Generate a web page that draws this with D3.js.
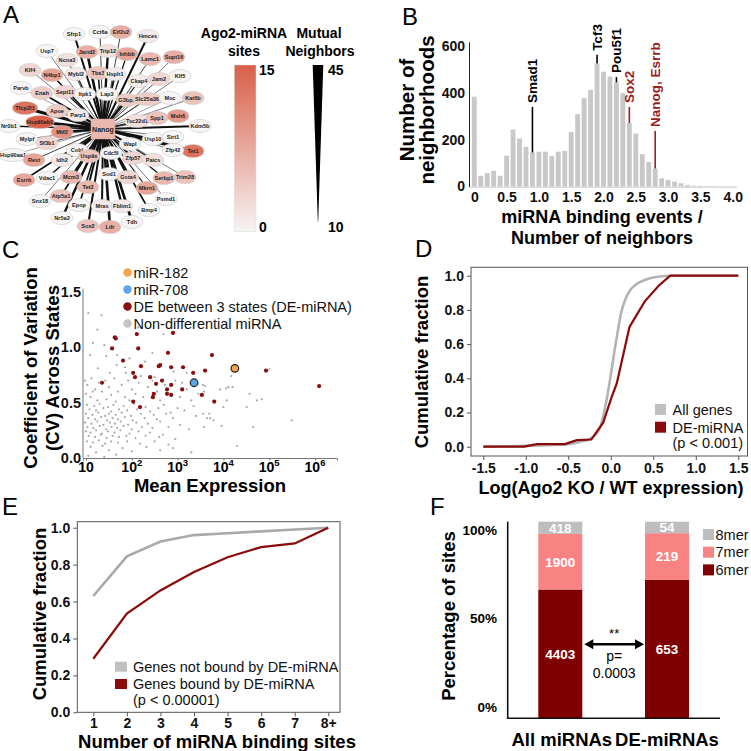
<!DOCTYPE html>
<html><head><meta charset="utf-8">
<script src="https://cdn.jsdelivr.net/npm/d3@7"></script>
<style>
body{margin:0;background:#fff}
text{font-family:"Liberation Sans",Arial,Helvetica,sans-serif}
</style>
</head><body>
<svg id="c" width="751" height="751" xmlns="http://www.w3.org/2000/svg"></svg>
<script>
// ---------------- DATA ----------------
// Panel A: network around Nanog
const netNames = ["Sfrp1","Cct6a","Eif2s2","Hmces","Usp7","Jarid2","Trip12","Inhbb","Lamc1","Supt16","Ncoa3","Tbx3","Hsph1","Klf4","N4bp1","Mybl2","Ckap4","Jam2","Klf5","Parvb","Enah","Sept11","Itpk1","Lap3","G3bp2","Slc25a36","Msc","Kat6b","Tfcp2l1","Apoe","Parp1","Tsc22d1","Spp1","Msh6","Nr0b1","Hsp90ab1","Mtf2","Kdm5b","Usp10","Sirt1","Mylpf","Sf3b1","Cobl","Wapl","Tet1","Zfp42","Hsp90aa1","Rest","Idh2","Cdc5l","Usp9x","Zfp57","Paics","Serbp1","Trim28","Esrrb","Vdac1","Mcm3","Sod1","Gsta4","Mkrn1","Tet2","Psmd1","Snx18","Atp5a1","Epop","Mras","Fblim1","Bmp4","Nr5a2","Sox2","Lifr","Tdh"];
const netSites = [0,0,7,1,0,7,2,8,6,7,2,5,1,3,8,1,1,3,0,0,4,3,0,0,4,4,0,5,13,4,1,2,5,9,0,15,10,0,0,0,0,3,0,0,13,0,0,8,1,0,5,3,2,6,5,8,0,6,0,3,8,6,0,0,5,0,1,1,0,0,5,7,0];
const netMutual = [30,15,15,30,12,38,35,20,15,12,15,25,30,12,25,20,20,15,12,10,30,20,15,20,30,15,10,12,42,25,25,20,15,12,25,45,35,28,28,12,12,15,30,20,42,12,10,15,25,25,30,30,20,20,12,25,25,30,30,30,20,30,12,12,25,25,30,35,25,35,30,38,38];
// layout of the network drawing (offsets from the hub, layout units)
const netLayout = [[-29,-95],[-3,-97],[18,-97],[45,-93],[-56,-78],[-16,-77],[5,-78],[24,-75],[47,-70],[71,-72],[-36,-69],[-5,-56],[12,-55],[-73,-59],[-51,-54],[-27,-55],[36,-48],[56,-50],[77,-53],[-82,-41],[-61,-36],[-38,-37],[-18,-35],[4,-35],[24,-29],[44,-30],[67,-31],[90,-31],[-78,-21],[-46,-18],[-25,-14],[34,-8],[54,-11],[75,-13],[-94,-3],[-63,-7],[-41,3],[97,-3],[50,10],[70,8],[-76,10],[-56,14],[-26,21],[27,15],[90,22],[70,21],[-90,26],[-69,31],[-41,31],[8,24],[-14,27],[30,29],[50,31],[61,49],[82,48],[-79,51],[-56,49],[-32,48],[6,45],[25,48],[44,59],[-15,58],[63,70],[-63,72],[-42,67],[-24,76],[-1,77],[19,77],[46,81],[-41,89],[-15,97],[7,98],[29,93]];
const hubName = "Nanog";
const hubSites = 6;
const sitesLegendTicks = [0,15];
const mutualLegendTicks = [10,45];

// Panel B: histogram
const histBins = [0,0.1,0.2,0.3,0.4,0.5,0.6,0.7,0.8,0.9,1.0,1.1,1.2,1.3,1.4,1.5,1.6,1.7,1.8,1.9,2.0,2.1,2.2,2.3,2.4,2.5,2.6,2.7,2.8,2.9,3.0,3.1,3.2,3.3,3.4,3.5,3.6,3.7,3.8,3.9,4.0];
const histCounts = [385,46,58,67,46,132,244,206,170,146,149,149,130,149,153,234,310,379,414,527,492,471,446,400,272,227,139,105,77,35,28,21,14,7,4,3,2,2,1,1,1];
const histXTicks = [0,0.5,1.0,1.5,2.0,2.5,3.0,3.5,4.0];
const histYTicks = [0,200,400,600];
const annLabels = ["Smad1","Tcf3","Pou5f1","Sox2","Nanog, Esrrb"];
const annBins = [0.9,1.9,2.2,2.4,2.8];
const annTop = [341,564,469,341,238];
const annRed = [false,false,false,true,true];

// Panel C: scatter [log10 mean expression, CV]
const cGrey = [[1.05,1.31],[1.34,1.29],[1.25,1.16],[1.15,1.04],[1.09,0.93],[1.44,0.92],[1.68,0.93],[2.14,1.18],[2.69,1.12],[1.26,0.81],[1.67,0.84],[1.85,0.82],[2.29,0.87],[1.52,0.77],[1.87,0.77],[2.91,0.78],[3.2,0.77],[1.4,1.02],[2.45,0.95],[1.95,0.9],
[4.17,0.74],[3.93,0.62],[4.06,0.63],[4.11,0.64],[4.2,0.64],[3.6,0.65],[3.58,0.6],[4.07,0.52],[4.0,0.46],[4.57,0.58],[4.73,0.52],[4.84,0.53],[4.51,0.46],[3.56,0.4],[3.69,0.4],[3.64,0.36],[3.71,0.36],[3.78,0.34],[3.58,0.28],[3.96,0.29],[4.65,0.28],[5.49,0.34],[4.3,0.11],[5.0,0.8],
[0.98,0.7],[1.03,0.66],[1.12,0.72],[1.2,0.62],[1.28,0.68],[1.35,0.6],[1.42,0.7],[1.5,0.64],[1.55,0.57],[1.62,0.72],[1.7,0.6],[1.78,0.66],[1.85,0.55],[1.92,0.7],[2.0,0.62],[2.08,0.58],[2.15,0.68],[2.25,0.55],[2.35,0.64],[2.45,0.7],[2.55,0.6],[2.62,0.52],[2.72,0.66],[2.85,0.58],[2.95,0.7],[3.05,0.55],[3.2,0.62],[3.3,0.52],[3.45,0.58],[3.55,0.66],[1.1,0.55],[1.25,0.52],[1.45,0.53],[1.65,0.51],[1.95,0.52],[2.2,0.74],[2.5,0.73],[1.0,0.58],[1.15,0.6],[3.1,0.68],
[1.02,0.48],[1.18,0.47],[1.3,0.49],[1.48,0.46],[1.6,0.48],[1.82,0.47],[2.05,0.49],[2.3,0.46],[2.7,0.48],[3.0,0.45],[3.35,0.47],
[1.08,0.44],[1.22,0.43],[1.38,0.45],[1.55,0.42],[1.72,0.44],[1.9,0.43],[2.12,0.44],[2.4,0.42],[2.58,0.45],[2.85,0.41],[3.15,0.43],
[1.0,0.4],[1.14,0.39],[1.27,0.41],[1.42,0.38],[1.5,0.4],[1.65,0.39],[1.78,0.41],[1.98,0.38],[2.2,0.4],[2.48,0.39],[2.75,0.4],[3.4,0.38],
[1.05,0.36],[1.2,0.35],[1.33,0.37],[1.46,0.34],[1.58,0.36],[1.7,0.35],[1.85,0.37],[2.02,0.34],[2.28,0.36],[2.55,0.35],[2.9,0.36],
[0.98,0.32],[1.12,0.31],[1.25,0.33],[1.38,0.3],[1.52,0.32],[1.63,0.31],[1.76,0.33],[1.92,0.3],[2.1,0.32],[2.35,0.31],[2.62,0.33],[3.05,0.3],
[1.03,0.28],[1.16,0.27],[1.3,0.29],[1.44,0.26],[1.56,0.28],[1.68,0.27],[1.82,0.29],[2.0,0.26],[2.22,0.28],[2.45,0.27],[2.8,0.28],[3.25,0.26],
[1.0,0.24],[1.1,0.23],[1.22,0.25],[1.35,0.22],[1.48,0.24],[1.62,0.23],[1.75,0.25],[1.95,0.22],[2.15,0.24],[2.4,0.23],[2.68,0.21],
[1.06,0.2],[1.2,0.19],[1.32,0.21],[1.45,0.18],[1.58,0.2],[1.72,0.19],[1.88,0.2],[2.08,0.18],[2.3,0.2],[2.6,0.19],[2.95,0.17],
[1.02,0.15],[1.15,0.14],[1.28,0.16],[1.42,0.13],[1.55,0.15],[1.7,0.14],[1.9,0.15],[2.18,0.13],[2.5,0.15],[2.8,0.12],
[1.1,0.1],[1.22,0.05],[1.36,0.11],[1.5,0.07],[1.66,0.03],[1.8,0.09],[2.0,0.06],[2.32,0.1],[2.62,0.07],[2.9,0.09],[1.05,0.02],[1.4,0.01],[3.3,0.05]];
const cDE = [[1.63,1.09],[1.65,1.08],[2.11,1.12],[2.9,1.13],[1.57,0.99],[2.14,0.99],[2.79,0.95],[3.75,0.93],[1.81,0.88],[2.2,0.83],[2.59,0.83],[2.62,0.84],[2.86,0.82],[3.12,0.82],[3.6,0.79],[4.93,0.79],[2.03,0.77],[2.07,0.73],[2.4,0.73],[3.34,0.77],[1.35,0.68],[2.53,0.67],[2.66,0.7],[2.86,0.66],[3.1,0.62],[2.77,0.62],[2.48,0.58],[2.46,0.55],[2.77,0.58],[2.86,0.57],[3.53,0.57],[2.03,0.51],[2.18,0.46],[3.8,0.51],[6.09,0.65]];
const cMiR182 = [4.25,0.81];
const cMiR708 = [3.36,0.68];
const cLegend = ["miR-182","miR-708","DE between 3 states (DE-miRNA)","Non-differential miRNA"];
const cXTicks = [1,2,3,4,5,6];
const cYTicks = [0,0.5,1.0,1.5];

// Panel D: cumulative distributions
const dAllX = [-1.5,-1.0,-0.7,-0.5,-0.35,-0.25,-0.18,-0.12,-0.08,-0.04,0,0.04,0.08,0.12,0.17,0.22,0.3,0.4,0.5,0.7,1.5];
const dAllY = [0,0.005,0.01,0.015,0.03,0.045,0.07,0.12,0.2,0.3,0.42,0.55,0.67,0.78,0.86,0.91,0.95,0.975,0.99,1.0,1.0];
const dDeX = [-1.5,-1.02,-0.87,-0.54,-0.4,-0.23,-0.09,0.01,0.07,0.22,0.4,0.56,0.7,1.5];
const dDeY = [0,0,0.015,0.015,0.038,0.042,0.14,0.29,0.37,0.70,0.85,0.94,1.0,1.0];
const dXTicks = [-1.5,-1.0,-0.5,0,0.5,1.0,1.5];
const dYTicks = [0,0.2,0.4,0.6,0.8,1.0];

// Panel E
const eSites = ["1","2","3","4","5","6","7","8+"];
const eNotBound = [0.63,0.845,0.925,0.96,0.97,0.98,0.99,1.0];
const eBound = [0.29,0.535,0.66,0.76,0.84,0.895,0.915,1.0];

// Panel F
const fCats = ["All miRNAs","DE-miRNAs"];
const f6mer = [4403,653];
const f7mer = [1900,219];
const f8mer = [418,54];
const fKmers = ["8mer","7mer","6mer"];
const fYTicks = [0,0.5,1];

// ---------------- DRAW ----------------
const svg = d3.select("#c");
svg.append("rect").attr("width",751).attr("height",751).attr("fill","#fff");
const RED = "#8b0a0a";

function letter(t,x,y){svg.append("text").attr("x",x).attr("y",y).attr("font-size",24).text(t);}
function rotText(t,x,y,size){svg.append("text").attr("transform",`translate(${x},${y}) rotate(-90)`).attr("text-anchor","middle").attr("font-size",size).attr("font-weight","bold").text(t);}
function styleAxis(g,size){g.selectAll("text").attr("font-size",size).attr("font-weight","bold").attr("fill","#111").style("font-family","'Liberation Sans',Arial,sans-serif");}

// ===== Panel A =====
letter("A",3,23);
const ax = d3.scaleLinear().domain([-100,100]).range([3,203]);
const ay = d3.scaleLinear().domain([-100,100]).range([29,229]);
const siteColor = d3.scaleLinear().domain([0,15]).range(["#f6f4f4","#d95f48"]);
const edgeW = d3.scaleLinear().domain([10,45]).range([0.4,3.2]);
const gA = svg.append("g");
netNames.forEach((n,i)=>{
  gA.append("line").attr("x1",ax(0)).attr("y1",ay(0)).attr("x2",ax(netLayout[i][0])).attr("y2",ay(netLayout[i][1]))
    .attr("stroke","#111").attr("stroke-width",edgeW(netMutual[i]));
});
netNames.forEach((n,i)=>{
  const cx=ax(netLayout[i][0]), cy=ay(netLayout[i][1]);
  gA.append("ellipse").attr("cx",cx).attr("cy",cy).attr("rx",Math.max(11,n.length*1.8)).attr("ry",6.6)
    .attr("fill",siteColor(netSites[i])).attr("stroke","#c9c9c9").attr("stroke-width",0.6);
  gA.append("text").attr("x",cx).attr("y",cy+2).attr("text-anchor","middle").attr("font-size",5.6).attr("font-weight","bold").attr("fill","#222").text(n);
});
gA.append("rect").attr("x",ax(0)-12).attr("y",ay(0)-10).attr("width",24).attr("height",20).attr("fill",siteColor(hubSites)).attr("stroke","#d8a79c").attr("stroke-width",0.5);
gA.append("text").attr("x",ax(0)).attr("y",ay(0)+2.5).attr("text-anchor","middle").attr("font-size",7).attr("font-weight","bold").attr("fill","#222").text(hubName);

// legends
const defs = svg.append("defs");
const grad = defs.append("linearGradient").attr("id","sg").attr("x1",0).attr("x2",0).attr("y1",0).attr("y2",1);
grad.append("stop").attr("offset","0%").attr("stop-color",siteColor(15));
grad.append("stop").attr("offset","100%").attr("stop-color",siteColor(0));
const legY = d3.scaleLinear().domain([0,15]).range([231.7,65]);
svg.append("rect").attr("x",234.3).attr("y",legY(15)).attr("width",21.7).attr("height",legY(0)-legY(15)).attr("fill","url(#sg)").attr("stroke","#ddd").attr("stroke-width",0.5);
svg.append("text").attr("x",244).attr("y",38).attr("text-anchor","middle").attr("font-size",14).attr("font-weight","bold").text("Ago2-miRNA");
svg.append("text").attr("x",244).attr("y",55.5).attr("text-anchor","middle").attr("font-size",14).attr("font-weight","bold").text("sites");
sitesLegendTicks.forEach(v=>svg.append("text").attr("x",259).attr("y",v===15?75:232).attr("font-size",14).attr("font-weight","bold").text(v));
svg.append("text").attr("x",319).attr("y",38).attr("text-anchor","middle").attr("font-size",14).attr("font-weight","bold").text("Mutual");
svg.append("text").attr("x",320).attr("y",55.5).attr("text-anchor","middle").attr("font-size",14).attr("font-weight","bold").text("Neighbors");
const legM = d3.scaleLinear().domain([10,45]).range([221.7,65]);
const legMW = d3.scaleLinear().domain([10,45]).range([0.4,10.6]);
const wedge = d3.area().y(d=>legM(d)).x0(d=>318-legMW(d)/2).x1(d=>318+legMW(d)/2);
svg.append("path").attr("d",wedge(mutualLegendTicks)).attr("fill","#000");
mutualLegendTicks.forEach(v=>svg.append("text").attr("x",328).attr("y",v===45?75:232).attr("font-size",14).attr("font-weight","bold").text(v));

// ===== Panel B =====
letter("B",402,25);
const xB = d3.scaleLinear().domain([0,4]).range([474.3,732.7]);
const yB = d3.scaleLinear().domain([0,620]).range([186.5,41.8]);
const bw = xB(0.1)-xB(0)-1.6;
svg.append("g").selectAll("rect").data(histCounts).join("rect")
  .attr("x",(d,i)=>xB(histBins[i])-bw/2).attr("y",d=>yB(d)).attr("width",bw).attr("height",d=>yB(0)-yB(d)).attr("fill","#c8c8c8");
svg.append("line").attr("x1",469).attr("x2",737).attr("y1",187.2).attr("y2",187.2).attr("stroke","#bbb").attr("stroke-width",0.8);
const gBy = svg.append("g").attr("transform","translate(469,0)").call(d3.axisLeft(yB).tickValues(histYTicks).tickSize(0).tickPadding(4));
gBy.select(".domain").attr("stroke","#222");
styleAxis(gBy,14);
const gBx = svg.append("g").attr("transform","translate(0,187)").call(d3.axisBottom(xB).tickValues(histXTicks).tickSize(0).tickPadding(5.5).tickFormat(d=>d===0?"0":d.toFixed(1)));
gBx.select(".domain").remove();
styleAxis(gBx,14);
annLabels.forEach((t,i)=>{
  const x = xB(annBins[i]);
  const col = annRed[i]?"#9b1c1c":"#000";
  const barTop = yB(histCounts[histBins.indexOf(annBins[i])]);
  svg.append("line").attr("x1",x).attr("x2",x).attr("y1",yB(annTop[i])).attr("y2",barTop).attr("stroke",col).attr("stroke-width",1.6);
  svg.append("text").attr("transform",`translate(${x+5},${yB(annTop[i])-4}) rotate(-90)`).attr("font-size",13.5).attr("font-weight","bold").attr("fill",col).text(t);
});
rotText("Number of",414,110,20.5);
rotText("neighborhoods",434,110,20.5);
svg.append("text").attr("x",602).attr("y",222.5).attr("text-anchor","middle").attr("font-size",18).attr("font-weight","bold").text("miRNA binding events /");
svg.append("text").attr("x",602).attr("y",244).attr("text-anchor","middle").attr("font-size",18).attr("font-weight","bold").text("Number of neighbors");

// ===== Panel C =====
letter("C",2,258);
const xC = d3.scaleLog().domain([Math.pow(10,0.935),Math.pow(10,6.48)]).range([83,337]);
const yC = d3.scaleLinear().domain([0,1.5]).range([458,292]);
const gCy = svg.append("g").attr("transform","translate(83,0)").call(d3.axisLeft(yC).tickValues(cYTicks).tickSize(0).tickPadding(2).tickFormat(d3.format(".1f")));
gCy.select(".domain").attr("d",`M0,${yC(1.53)}V${yC(0)}`).attr("stroke","#777");
styleAxis(gCy,14.5);
const gCx = svg.append("g").attr("transform","translate(0,458)").call(d3.axisBottom(xC).tickValues(cXTicks.map(e=>Math.pow(10,e))).tickSize(2.5).tickFormat(""));
gCx.select(".domain").attr("stroke","#777");
gCx.selectAll("line").attr("stroke","#777");
cXTicks.forEach(e=>{
  const t = svg.append("text").attr("x",xC(Math.pow(10,e))).attr("y",471.5).attr("text-anchor","middle").attr("font-size",14).attr("font-weight","bold");
  if(e===1){t.text("10");}
  else{t.append("tspan").text("10");t.append("tspan").attr("dy",-6).attr("font-size",9.5).text(e);}
});
svg.append("g").selectAll("circle").data(cGrey).join("circle")
  .attr("cx",d=>xC(Math.pow(10,d[0]))).attr("cy",d=>yC(d[1])).attr("r",1.1).attr("fill","#a9a9a9");
svg.append("g").selectAll("circle").data(cDE).join("circle")
  .attr("cx",d=>xC(Math.pow(10,d[0]))).attr("cy",d=>yC(d[1])).attr("r",2.1).attr("fill","#8b0d0d");
[[cMiR182,"#f5a54a"],[cMiR708,"#5aa6e6"]].forEach(([p,c])=>{
  svg.append("circle").attr("cx",xC(Math.pow(10,p[0]))).attr("cy",yC(p[1])).attr("r",3.8).attr("fill",c).attr("stroke","#222").attr("stroke-width",1.2);
});
const cLegCol = ["#f5a54a","#5aa6e6","#8b0d0d","#c4c4c4"];
cLegend.forEach((t,i)=>{
  const y = 272.5+i*17;
  svg.append("circle").attr("cx",127.5).attr("cy",y).attr("r",4.2).attr("fill",cLegCol[i]);
  svg.append("text").attr("x",133.5).attr("y",y+5).attr("font-size",14.5).attr("fill","#111").text(t);
});
rotText("Coefficient of Variation",37,368,18.5);
rotText("(CV) Across States",59,368,18.5);
svg.append("text").attr("x",210).attr("y",491.5).attr("text-anchor","middle").attr("font-size",18.5).attr("font-weight","bold").text("Mean Expression");

// ===== Panel D =====
letter("D",415,257);
const xD = d3.scaleLinear().domain([-1.5,1.5]).range([483.3,738.3]);
const yD = d3.scaleLinear().domain([0,1]).range([446.7,275.7]);
svg.append("rect").attr("x",471).attr("y",267.3).attr("width",276.5).attr("height",188.7).attr("fill","none").attr("stroke","#555").attr("stroke-width",1);
const gDy = svg.append("g").attr("transform","translate(471,0)").call(d3.axisLeft(yD).tickValues(dYTicks).tickSize(4).tickPadding(3).tickFormat(d=>d.toFixed(1)));
gDy.select(".domain").remove(); gDy.selectAll("line").attr("stroke","#555");
styleAxis(gDy,14);
const gDx = svg.append("g").attr("transform","translate(0,456)").call(d3.axisBottom(xD).tickValues(dXTicks).tickSize(4).tickPadding(3).tickFormat(d=>d.toFixed(1)));
gDx.select(".domain").remove(); gDx.selectAll("line").attr("stroke","#555");
styleAxis(gDx,14);
const lineD = d3.line().x(d=>xD(d[0])).y(d=>yD(d[1]));
svg.append("path").attr("d",lineD.curve(d3.curveMonotoneX)(dAllX.map((x,i)=>[x,dAllY[i]]))).attr("fill","none").attr("stroke","#b3b3b3").attr("stroke-width",2.6);
svg.append("path").attr("d",d3.line().x(d=>xD(d[0])).y(d=>yD(d[1]))(dDeX.map((x,i)=>[x,dDeY[i]]))).attr("fill","none").attr("stroke",RED).attr("stroke-width",2.2);
svg.append("rect").attr("x",655).attr("y",404).attr("width",11).attr("height",11).attr("fill","#c0c0c0");
svg.append("rect").attr("x",655).attr("y",421.7).attr("width",11).attr("height",11).attr("fill",RED);
svg.append("text").attr("x",672.5).attr("y",415).attr("font-size",14.5).attr("fill","#111").text("All genes");
svg.append("text").attr("x",672.5).attr("y",432.5).attr("font-size",14.5).attr("fill","#111").text("DE-miRNA");
svg.append("text").attr("x",672.5).attr("y",447.5).attr("font-size",14.5).attr("fill","#111").text("(p < 0.001)");
rotText("Cumulative fraction",428,362,18.5);
svg.append("text").attr("x",611).attr("y",494).attr("text-anchor","middle").attr("font-size",18).attr("font-weight","bold").text("Log(Ago2 KO / WT expression)");

// ===== Panel E =====
letter("E",2,515);
const xE = d3.scaleLinear().domain([1,8]).range([93.3,328.3]);
const yE = d3.scaleLinear().domain([0,1]).range([712.3,527.7]);
svg.append("rect").attr("x",77.3).attr("y",521.7).attr("width",262.7).attr("height",190.6).attr("fill","none").attr("stroke","#555").attr("stroke-width",1);
const gEy = svg.append("g").attr("transform","translate(77.3,0)").call(d3.axisLeft(yE).tickValues(dYTicks).tickSize(4).tickPadding(3).tickFormat(d=>d.toFixed(1)));
gEy.select(".domain").remove(); gEy.selectAll("line").attr("stroke","#555");
styleAxis(gEy,14);
const gEx = svg.append("g").attr("transform","translate(0,712.3)").call(d3.axisBottom(xE).tickValues(d3.range(1,9)).tickSize(4).tickPadding(2).tickFormat((d,i)=>eSites[i]));
gEx.select(".domain").remove(); gEx.selectAll("line").attr("stroke","#555");
styleAxis(gEx,14);
const lineE = d3.line().x((d,i)=>xE(i+1)).y(d=>yE(d));
svg.append("path").attr("d",lineE(eNotBound)).attr("fill","none").attr("stroke","#a9a9a9").attr("stroke-width",2.6);
svg.append("path").attr("d",lineE(eBound)).attr("fill","none").attr("stroke",RED).attr("stroke-width",2.2);
svg.append("rect").attr("x",115).attr("y",661.7).attr("width",12).attr("height",10).attr("fill","#c0c0c0");
svg.append("rect").attr("x",115).attr("y",679).attr("width",12).attr("height",10).attr("fill",RED);
svg.append("text").attr("x",133).attr("y",672).attr("font-size",14.5).attr("fill","#111").text("Genes not bound by DE-miRNA");
svg.append("text").attr("x",133).attr("y",689).attr("font-size",14.5).attr("fill","#111").text("Genes bound by DE-miRNA");
svg.append("text").attr("x",133).attr("y",705).attr("font-size",14.5).attr("fill","#111").text("(p < 0.00001)");
rotText("Cumulative fraction",46,614,18.5);
svg.append("text").attr("x",217).attr("y",748).attr("text-anchor","middle").attr("font-size",18.5).attr("font-weight","bold").text("Number of miRNA binding sites");

// ===== Panel F =====
letter("F",430,515);
const xF = d3.scalePoint().domain(fCats).range([560.3,667]);
const yF = d3.scaleLinear().domain([0,1]).range([718.3,521.7]);
const fTickPos = d3.scaleLinear().domain([0,1]).range([706.7,530]);
const fColors = {"6mer":"#7f0000","7mer":"#f98383","8mer":"#bdbdbd"};
const fBW = 44;
fCats.forEach((c,i)=>{
  const tot = f6mer[i]+f7mer[i]+f8mer[i];
  const segs = [["6mer",f6mer[i]],["7mer",f7mer[i]],["8mer",f8mer[i]]];
  let cum = 0;
  segs.forEach(([k,v])=>{
    const y0 = cum/tot, y1 = (cum+v)/tot; cum += v;
    svg.append("rect").attr("x",xF(c)-fBW/2).attr("y",yF(y1)).attr("width",fBW).attr("height",yF(y0)-yF(y1)).attr("fill",fColors[k]);
    svg.append("text").attr("x",xF(c)).attr("y",(yF(y0)+yF(y1))/2+5).attr("text-anchor","middle").attr("font-size",13.5).attr("font-weight","bold").attr("fill","#fff").text(v);
  });
  svg.append("text").attr("x",xF(c)+(i===0?1.5:0)).attr("y",746).attr("text-anchor","middle").attr("font-size",18.5).attr("font-weight","bold").text(c);
});
svg.append("line").attr("x1",507.7).attr("x2",507.7).attr("y1",521.7).attr("y2",719).attr("stroke","#111").attr("stroke-width",1.6);
svg.append("line").attr("x1",507).attr("x2",720).attr("y1",718.3).attr("y2",718.3).attr("stroke","#111").attr("stroke-width",1.6);
fYTicks.forEach(v=>svg.append("text").attr("x",497).attr("y",fTickPos(v)+5).attr("text-anchor","end").attr("font-size",13.5).attr("font-weight","bold").text(d3.format(".0%")(v)));
// significance arrow
const ay1 = 644.3, axL = xF(fCats[0])+fBW/2+2, axR = xF(fCats[1])-fBW/2-1;
svg.append("line").attr("x1",axL+6).attr("x2",axR-6).attr("y1",ay1).attr("y2",ay1).attr("stroke","#000").attr("stroke-width",2.5);
svg.append("path").attr("d",`M${axL},${ay1}L${axL+9},${ay1-5}L${axL+9},${ay1+5}Z`).attr("fill","#000");
svg.append("path").attr("d",`M${axR},${ay1}L${axR-9},${ay1-5}L${axR-9},${ay1+5}Z`).attr("fill","#000");
const midF = (axL+axR)/2;
svg.append("text").attr("x",midF).attr("y",638).attr("text-anchor","middle").attr("font-size",13).text("**");
svg.append("text").attr("x",midF).attr("y",660.5).attr("text-anchor","middle").attr("font-size",14).text("p=");
svg.append("text").attr("x",midF).attr("y",677.5).attr("text-anchor","middle").attr("font-size",14).text("0.0003");
fKmers.forEach((k,i)=>{
  const y = 529+i*17.7;
  svg.append("rect").attr("x",703).attr("y",y).attr("width",11).attr("height",11).attr("fill",fColors[k]);
  svg.append("text").attr("x",715.5).attr("y",y+10.5).attr("font-size",14.5).attr("fill","#111").text(k);
});
rotText("Percentage of sites",455,616,18.5);
</script>
</body></html>
